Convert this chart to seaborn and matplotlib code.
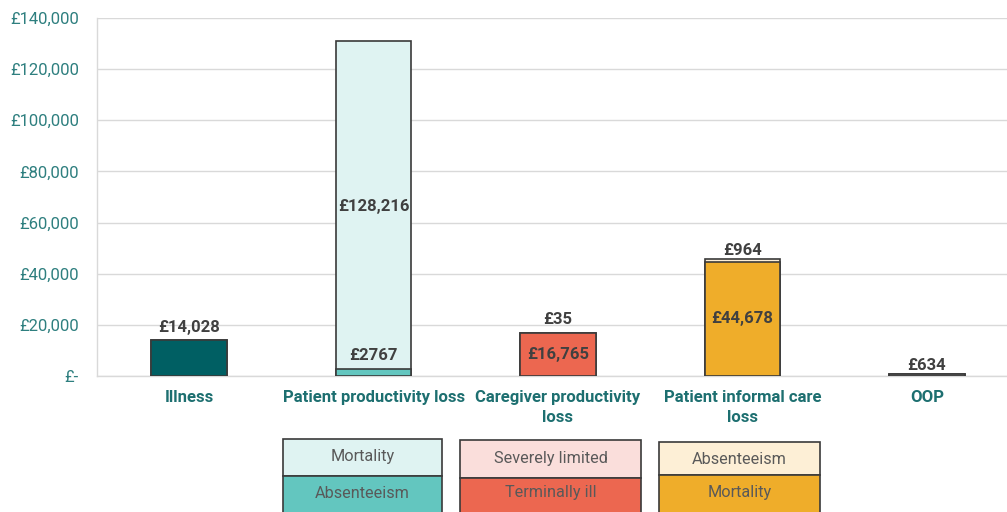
import matplotlib
matplotlib.use("Agg")

import pandas as pd
import matplotlib.pyplot as plt
import seaborn as sns
from matplotlib.patches import Rectangle

# Setup
W, H = 1007, 512
TEAL = '#1d6f70'
TEXT_DARK = '#404040'

def money(v, pos=None):
    """Format axis values as pounds, with a dash for zero."""
    if v == 0: return '£-'
    return f'£{v:,.0f}'

def legend_box(x0, x1, y_top, y_mid, cells, text_y):
    """Draw a two-cell key below a bar (pixel coords from top-left)."""
    fig = plt.gcf()
    tops = [y_top, y_mid]
    bottoms = [y_mid, H + 10]
    for (label, color), yt, yb, ytxt in zip(cells, tops, bottoms, text_y):
        fig.add_artist(Rectangle((x0 / W, (H - yb) / H), (x1 - x0) / W, (yb - yt) / H,
                                 transform=fig.transFigure, facecolor=color,
                                 edgecolor='#3a3a3a', linewidth=1.2, clip_on=False))
        plt.figtext(((x0 + x1) / 2) / W, (H - ytxt) / H, label, ha='center', va='center',
                    fontsize=11.7, color='#595959')

def generate_cost_chart():
    # 1. DATA
    df = pd.DataFrame({
        'category': ['Illness', 'Patient productivity loss', 'Caregiver productivity\nloss',
                     'Patient informal care\nloss', 'OOP'],
        'lower': [14028, 2767, 16765, 44678, 634],
        'upper': [0, 128216, 35, 964, 0],
    })
    df['total'] = df['lower'] + df['upper']

    lower_colors = ['#005f63', '#63c6bf', '#ec6750', '#efad2a', '#7f7f7f']
    upper_colors = ['#005f63', '#dff3f2', '#fadedb', '#fdefd6', '#7f7f7f']

    # 2. STACKED BARS (total first, lower segment on top)
    plt.figure(figsize=(W / 100, H / 100), dpi=100)
    plt.rcParams['font.family'] = ['Roboto', 'DejaVu Sans']
    plt.subplots_adjust(left=97 / W, right=1.0, bottom=(H - 376) / H, top=(H - 18) / H)
    ax = plt.gca()

    bar_kw = dict(width=0.41, edgecolor='#3a3a3a', linewidth=1.2, legend=False,
                  saturation=1, zorder=3)
    sns.barplot(data=df, x='category', y='total', hue='category', palette=upper_colors, **bar_kw)
    sns.barplot(data=df, x='category', y='lower', hue='category', palette=lower_colors, **bar_kw)

    # 3. VALUE LABELS
    lbl = dict(ha='center', fontsize=12, fontweight='bold', color=TEXT_DARK, zorder=5)
    plt.text(0, df.loc[0, 'total'] + 2200, '£14,028', va='bottom', **lbl)
    plt.text(1, df.loc[1, 'lower'] + 2200, '£2767', va='bottom', **lbl)
    plt.text(1, df.loc[1, 'lower'] + df.loc[1, 'upper'] / 2 - 600, '£128,216', va='center', **lbl)
    plt.text(2, df.loc[2, 'total'] + 2200, '£35', va='bottom', **lbl)
    plt.text(2, df.loc[2, 'lower'] / 2, '£16,765', va='center', **lbl)
    plt.text(3, df.loc[3, 'total'] + 600, '£964', va='bottom', **lbl)
    plt.text(3, df.loc[3, 'lower'] / 2, '£44,678', va='center', **lbl)
    plt.text(4, df.loc[4, 'total'] + 600, '£634', va='bottom', **lbl)

    # 4. AXES STYLE
    plt.ylim(0, 140000)
    plt.xlim(-0.5, 4.435)
    plt.yticks(range(0, 140001, 20000))
    ax.yaxis.set_major_formatter(plt.FuncFormatter(money))
    plt.xlabel('')
    plt.ylabel('')
    plt.grid(axis='y', color='#d9d9d9', linewidth=1, zorder=0)
    ax.set_axisbelow(True)
    for side in ['top', 'right']:
        ax.spines[side].set_visible(False)
    for side in ['left', 'bottom']:
        ax.spines[side].set_color('#d9d9d9')
        ax.spines[side].set_linewidth(1)
    ax.tick_params(axis='y', length=0, pad=13, labelsize=12, labelcolor='#2e7f7f')
    ax.tick_params(axis='x', length=0, pad=10, labelsize=12, labelcolor=TEAL)
    for t in ax.get_xticklabels():
        t.set_fontweight('bold')
        t.set_linespacing(1.45)

    # 5. KEYS UNDER THE STACKED BARS
    legend_box(283, 442, 439, 476, [('Mortality', '#dff3f2'), ('Absenteeism', '#63c6bf')], [456, 493])
    legend_box(460, 641, 440, 478, [('Severely limited', '#fadedb'), ('Terminally ill', '#ec6750')], [458, 493])
    legend_box(659, 820, 442, 475, [('Absenteeism', '#fdefd6'), ('Mortality', '#efad2a')], [459, 492])

    plt.savefig('out.png', dpi=100)
    plt.close()

if __name__ == "__main__":
    generate_cost_chart()
